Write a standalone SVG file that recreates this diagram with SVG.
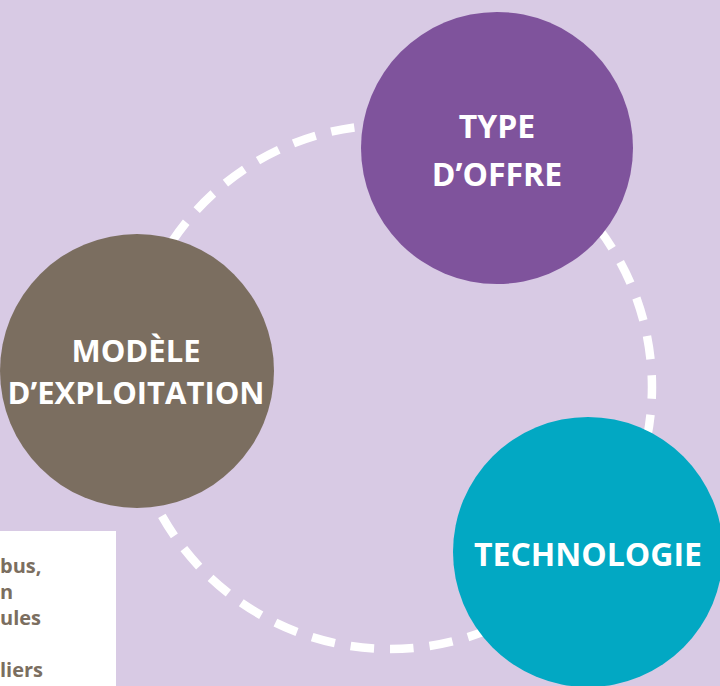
<svg xmlns="http://www.w3.org/2000/svg" width="720" height="686" viewBox="0 0 720 686">
  <style>
    .dash { fill: none; stroke: #ffffff; stroke-width: 8.5; stroke-dasharray: 23.5 16; }
    .label { font-family: "Open Sans", "Noto Sans", "DejaVu Sans", sans-serif; font-weight: 700; fill: #ffffff; text-anchor: middle; }
    .note { font-family: "Open Sans", "Noto Sans", "DejaVu Sans", sans-serif; font-weight: 700; fill: #7b6e60; font-size: 20px; }
  </style>
  <rect x="0" y="0" width="720" height="686" fill="#d8cae4"/>
  <g id="note-box">
    <rect x="-1" y="531" width="117" height="160" fill="#ffffff"/>
    <text class="note" x="0" y="573">bus,</text>
    <text class="note" x="0" y="599">n</text>
    <text class="note" x="0" y="625">ules</text>
    <text class="note" x="0" y="677">liers</text>
  </g>
  <g id="connectors">
    <path class="dash" d="M 138.8 312.4 A 262 262 0 0 1 435.5 129.0"/>
    <path class="dash" d="M 542.4 173.9 A 262 262 0 0 1 590.7 555.4"/>
    <path class="dash" d="M 525.2 611.4 A 262 262 0 0 1 136.9 454.8"/>
  </g>
  <g id="node-type-offre">
    <circle cx="497" cy="148" r="136" fill="#7f539c"/>
    <text class="label" x="497" y="138" font-size="32">TYPE</text>
    <text class="label" x="497" y="186" font-size="32">D’OFFRE</text>
  </g>
  <g id="node-modele">
    <circle cx="137" cy="371" r="137" fill="#7b6e60"/>
    <text class="label" x="136" y="362" font-size="31">MODÈLE</text>
    <text class="label" x="136" y="404" font-size="31">D’EXPLOITATION</text>
  </g>
  <g id="node-technologie">
    <circle cx="588" cy="552" r="135" fill="#02a8c3"/>
    <text class="label" x="588" y="566" font-size="32">TECHNOLOGIE</text>
  </g>
</svg>
